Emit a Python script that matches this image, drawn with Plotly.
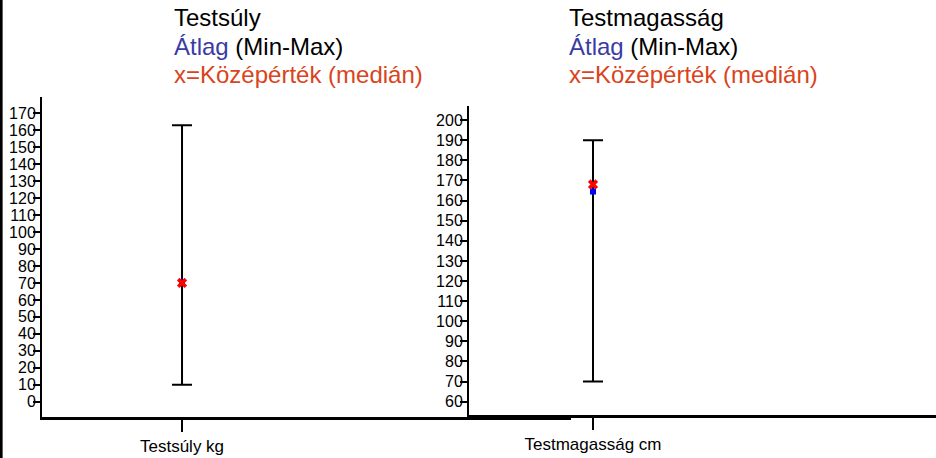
import plotly.graph_objects as go

# ---- data ----
categories_left = ["Testsúly kg"]
categories_right = ["Testmagasság cm"]
weight_mean = [70.5]
weight_median = [70]
weight_min = [10]
weight_max = [163]
height_mean = [164.5]
height_median = [168]
height_min = [70]
height_max = [190]
left_ticks = list(range(0, 171, 10))
right_ticks = list(range(60, 201, 10))

BLUE_TXT = "#3b3ba6"
RED_TXT = "#d9441c"

fig = go.Figure()

def add_panel(cats, mean, med, mn, mx, xa, ya):
    fig.add_trace(go.Scatter(
        x=cats, y=mean, mode="markers", xaxis=xa, yaxis=ya,
        marker=dict(symbol="square", size=6, color="#0000ff"),
        error_y=dict(type="data", symmetric=False,
                     array=[a - b for a, b in zip(mx, mean)],
                     arrayminus=[b - a for a, b in zip(mn, mean)],
                     color="black", thickness=2, width=10),
        showlegend=False, hoverinfo="skip"))
    fig.add_trace(go.Scatter(
        x=cats, y=med, mode="markers", xaxis=xa, yaxis=ya,
        marker=dict(symbol="x", size=9, color="#ff0000", line=dict(width=0)),
        showlegend=False, hoverinfo="skip"))

add_panel(categories_left, weight_mean, weight_median, weight_min, weight_max, "x", "y")
add_panel(categories_right, height_mean, height_median, height_min, height_max, "x2", "y2")

tickfont = dict(family="Liberation Sans, Arial, sans-serif", size=16, color="black")
xfont = dict(family="Liberation Sans Narrow, Liberation Sans, Arial, sans-serif", size=17, color="black")

common_x = dict(type="category", showgrid=False, zeroline=False, showline=True,
                linecolor="black", linewidth=3, ticks="outside", ticklen=12,
                tickwidth=2, tickcolor="black", tickfont=xfont, automargin=False)
common_y = dict(showgrid=False, zeroline=False, showline=True, linecolor="black",
                linewidth=2, ticks="outside", ticklen=7, tickwidth=2,
                tickcolor="black", tickfont=tickfont, ticklabelstandoff=-6,
                automargin=False)

fig.update_layout(
    width=936, height=458,
    margin=dict(l=0, r=0, t=0, b=0),
    paper_bgcolor="white", plot_bgcolor="rgba(0,0,0,0)",
    xaxis=dict(common_x, domain=[42/936, 571/936], range=[-0.5, 1.389], anchor="y"),
    yaxis=dict(common_y, domain=[(458-417)/458, (458-97)/458], range=[-9.0, 179.6],
               tickvals=left_ticks, anchor="x"),
    xaxis2=dict(common_x, domain=[469/936, 1.0], range=[-0.5, 1.383], anchor="y2"),
    yaxis2=dict(common_y, domain=[(458-415)/458, (458-106)/458], range=[53.4, 207.0],
                tickvals=right_ticks, anchor="x2"),
    shapes=[dict(type="line", xref="paper", yref="paper", x0=0.0012, x1=0.0012,
                 y0=0, y1=1, line=dict(color="black", width=3))],
)

title_font = dict(family="Liberation Sans, Arial, sans-serif", size=24, color="black")

def titles(x_px, name):
    lines = [
        (name, 18),
        (f"<span style='color:{BLUE_TXT}'>Átlag</span> (Min-Max)", 46),
        (f"<span style='color:{RED_TXT}'>x=Középérték (medián)</span>", 74),
    ]
    for txt, y_px in lines:
        fig.add_annotation(text=txt, xref="paper", yref="paper",
                           x=x_px/936, y=1 - y_px/458, xanchor="left", yanchor="middle",
                           showarrow=False, font=title_font)

titles(172, "Testsúly")
titles(567, "Testmagasság")

fig.write_html("out.html", config={"displayModeBar": False},
               post_script="document.body.style.margin='0';document.body.style.padding='0';document.body.style.overflow='hidden';")
